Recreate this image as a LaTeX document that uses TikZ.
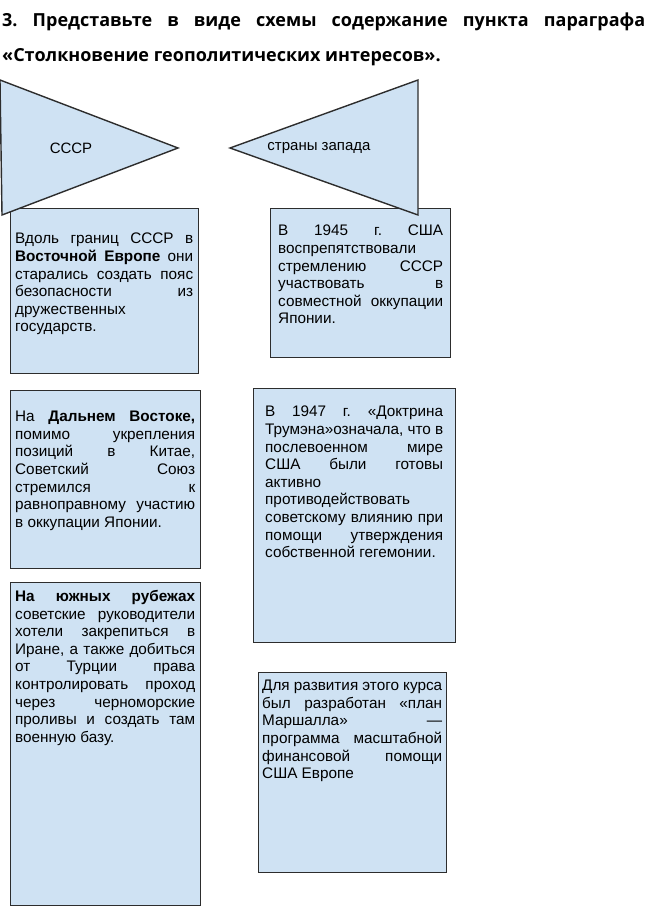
\documentclass[tikz,border=0pt]{standalone}
\usepackage{fontspec}
\setmainfont{Liberation Sans}
\newfontfamily\titlefont{Open Sans}
\frenchspacing
\definecolor{boxfill}{RGB}{207,226,243}
\definecolor{boxline}{RGB}{45,45,45}
\newcommand\jl[1]{\makebox[\hsize][s]{\spaceskip=0pt\xspaceskip=0pt #1}\\}
\tikzset{
  shapefill/.style={fill=boxfill, draw=boxline, line width=1.4pt, line join=miter},
  bx/.style={shapefill, rectangle, inner sep=0pt, anchor=north west},
  txt/.style={anchor=north west, inner sep=0pt, align=justify, font=\frenchspacing\fontsize{15.3}{17.6}\selectfont},
  ttl/.style={anchor=base west, inner sep=0pt, font=\frenchspacing\titlefont\bfseries\fontsize{18}{20}\selectfont},
  lbl/.style={inner sep=0pt, font=\fontsize{15}{17}\selectfont}
}
\begin{document}
\begin{tikzpicture}[x=1pt,y=-1pt]
\useasboundingbox (0,0) rectangle (649,917);
% title
\node[ttl] (title1) at (2,27) {\makebox[643pt][s]{3. Представьте в виде схемы содержание пункта параграфа}};
\node[ttl] (title2) at (2,62) {«Столкновение геополитических интересов».};
% triangles
\coordinate (ltA) at (0,80);
\coordinate (ltB) at (178,148);
\coordinate (ltC) at (2,215);
\coordinate (rtA) at (418,80);
\coordinate (rtB) at (230,148);
\coordinate (rtC) at (418,215);
% boxes (drawn before triangles so the tips overlap them)
\node[bx, minimum width=188pt, minimum height=165pt] (b1) at (10,208) {};
\node[bx, minimum width=180pt, minimum height=149pt] (b2) at (270,208) {};
\node[bx, minimum width=190pt, minimum height=178pt] (b3) at (10,390) {};
\node[bx, minimum width=202pt, minimum height=254pt] (b4) at (253,388) {};
\node[bx, minimum width=190pt, minimum height=323pt] (b5) at (10,582) {};
\node[bx, minimum width=188pt, minimum height=200pt] (b6) at (258,672) {};
\draw[shapefill] (ltA) -- (ltB) -- (ltC) -- cycle;
\draw[shapefill] (rtA) -- (rtB) -- (rtC) -- cycle;
\node[lbl] (ussr) at (71,148) {СССР};
\node[lbl] (west) at (319,148) {страны запада};
% texts
\node[txt, text width=178pt] (t1) at (15,233) {%
\jl{Вдоль границ СССР в}
\jl{\textbf{Восточной Европе} они}
\jl{старались создать пояс}
\jl{безопасности из}
дружественных\\
государств.};
\node[txt, text width=165pt] (t2) at (278,225) {%
\jl{В 1945 г. США}
воспрепятствовали\\
\jl{стремлению СССР}
\jl{участвовать в}
\jl{совместной оккупации}
Японии.};
\node[txt, text width=180pt] (t3) at (15,411) {%
\jl{На \textbf{Дальнем Востоке,}}
\jl{помимо укрепления}
\jl{позиций в Китае,}
\jl{Советский Союз}
\jl{стремился к}
\jl{равноправному участию}
в оккупации Японии.};
\node[txt, text width=178pt] (t4) at (265,406) {%
\jl{В 1947 г. «Доктрина}
\jl{Трумэна»означала, что в}
\jl{послевоенном мире}
\jl{США были готовы}
активно\\
противодействовать\\
\jl{советскому влиянию при}
\jl{помощи утверждения}
собственной гегемонии.};
\node[txt, text width=180pt] (t5) at (15,590) {%
\jl{\textbf{На южных рубежах}}
\jl{советские руководители}
\jl{хотели закрепиться в}
\jl{Иране, а также добиться}
\jl{от Турции права}
\jl{контролировать проход}
\jl{через черноморские}
\jl{проливы и создать там}
военную базу.};
\node[txt, text width=180pt] (t6) at (262,680) {%
\jl{Для развития этого курса}
\jl{был разработан «план}
\jl{Маршалла» —}
\jl{программа масштабной}
\jl{финансовой помощи}
США Европе};
\end{tikzpicture}
\end{document}
